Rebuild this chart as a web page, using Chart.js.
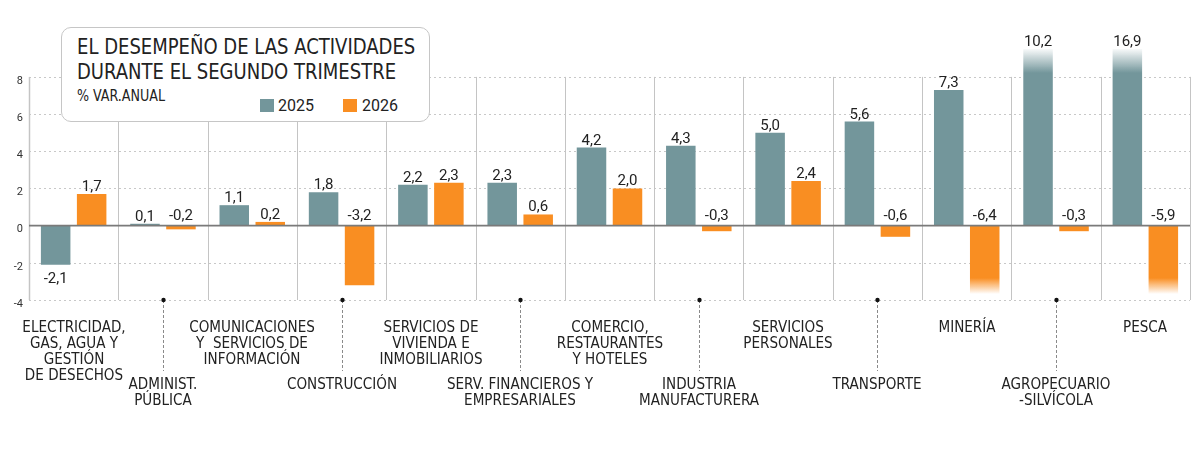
<!DOCTYPE html>
<html lang="es">
<head>
<meta charset="utf-8">
<script src="https://cdn.jsdelivr.net/npm/chart.js@4.4.1/dist/chart.umd.min.js"></script>
<style>
  html, body { margin: 0; padding: 0; background: #fff; }
  #wrap { position: relative; width: 1200px; height: 457px; overflow: hidden; }
  #wrap canvas { position: absolute; left: 0; top: 0; }
  .narrow { font-family: "Liberation Sans Narrow", "DejaVu Sans Condensed", Roboto, sans-serif; color: #222; }
  #box { position: absolute; left: 61px; top: 27px; width: 367px; height: 93px;
         border: 1px solid #c6c6c6; border-radius: 10px; background: #fff; }
  #title { position: absolute; left: 77px; top: 34px; font-size: 22px; line-height: 25px; white-space: pre;
           transform: scaleX(0.91); transform-origin: left top; }
  #unit { position: absolute; left: 77px; top: 89px; font-size: 15px; line-height: 15px;
          transform: scaleX(0.94); transform-origin: left top; }
  .sw { position: absolute; top: 99px; width: 14px; height: 13px; }
  .lg { position: absolute; top: 98px; font-family: Roboto, sans-serif; font-size: 16px; line-height: 16px; color: #222; }
  .cat { position: absolute; width: 170px; text-align: center; font-size: 16px; line-height: 16px; white-space: pre;
         transform: scaleX(0.94); transform-origin: center top; }
  .up { top: 319px; }
  .low { top: 376px; }
</style>
</head>
<body>
<div id="wrap">
  <canvas id="chart" width="1200" height="457"></canvas>
</div>
<script>
// Data
const categories = [
    'ELECTRICIDAD,\nGAS, AGUA Y\nGESTIÓN\nDE DESECHOS',
    'ADMINIST.\nPÚBLICA',
    'COMUNICACIONES\nY  SERVICIOS DE\nINFORMACIÓN',
    'CONSTRUCCIÓN',
    'SERVICIOS DE\nVIVIENDA E\nINMOBILIARIOS',
    'SERV. FINANCIEROS Y\nEMPRESARIALES',
    'COMERCIO,\nRESTAURANTES\nY HOTELES',
    'INDUSTRIA\nMANUFACTURERA',
    'SERVICIOS\nPERSONALES',
    'TRANSPORTE',
    'MINERÍA',
    'AGROPECUARIO\n-SILVÍCOLA',
    'PESCA'
];
const values2025 = [-2.1, 0.1, 1.1, 1.8, 2.2, 2.3, 4.2, 4.3, 5.0, 5.6, 7.3, 10.2, 16.9];
const values2026 = [1.7, -0.2, 0.2, -3.2, 2.3, 0.6, 2.0, -0.3, 2.4, -0.6, -6.4, -0.3, -5.9];
const yTicks = [-4, -2, 0, 2, 4, 6, 8];
const seriesNames = ['2025', '2026'];

const GREY = [115, 150, 155];
const ORANGE = [249, 142, 34];
const rgba = (c, a) => `rgba(${c[0]},${c[1]},${c[2]},${a})`;

const yMin = yTicks[0];
const yTop = yTicks[yTicks.length - 1];

// bars running past the axis range fade out at the plot edge
function barFill(col) {
    return (c) => {
        const area = c.chart.chartArea;
        const v = c.raw;
        if (!area) return rgba(col, 1);
        const ctx = c.chart.ctx;
        if (v > yTop) {
            const g = ctx.createLinearGradient(0, area.top, 0, area.top + 24);
            g.addColorStop(0, rgba(col, 0.05));
            g.addColorStop(1, rgba(col, 1));
            return g;
        }
        if (v < yMin) {
            const g = ctx.createLinearGradient(0, area.bottom - 22, 0, area.bottom - 6);
            g.addColorStop(0, rgba(col, 1));
            g.addColorStop(1, rgba(col, 0));
            return g;
        }
        return rgba(col, 1);
    };
}

const fmt = v => v.toFixed(1).replace('.', ',');

const decor = {
    id: 'decor',
    beforeDatasetsDraw(chart) {
        const { ctx, chartArea: a, scales: { x, y } } = chart;
        const w = x.width / categories.length;
        const top = y.getPixelForValue(yTop);
        const bot = y.getPixelForValue(yMin);
        ctx.save();
        // dotted horizontal grid
        ctx.lineWidth = 1;
        ctx.strokeStyle = '#c8c8c8';
        ctx.setLineDash([2, 3]);
        yTicks.forEach(t => {
            if (t === 0) return;
            const py = Math.round(y.getPixelForValue(t)) + 0.5;
            ctx.beginPath();
            ctx.moveTo(a.left, py);
            ctx.lineTo(a.right, py);
            ctx.stroke();
        });
        // category dividers + y axis line
        ctx.setLineDash([]);
        ctx.strokeStyle = '#c4c4c4';
        for (let i = 0; i <= categories.length; i++) {
            const px = Math.round(x.left + i * w) + 0.5;
            ctx.lineWidth = i === 0 ? 1.5 : 1;
            ctx.beginPath();
            ctx.moveTo(px, top);
            ctx.lineTo(px, bot);
            ctx.stroke();
        }
        ctx.restore();
    },
    afterDatasetsDraw(chart) {
        const { ctx, chartArea: a, scales: { x, y } } = chart;
        const zero = y.getPixelForValue(0);
        const bot = y.getPixelForValue(yMin);
        ctx.save();
        // zero line
        ctx.strokeStyle = '#7a7a7a';
        ctx.lineWidth = 1.8;
        ctx.beginPath();
        ctx.moveTo(a.left, zero);
        ctx.lineTo(a.right, zero);
        ctx.stroke();

        // value labels
        ctx.font = '15px Roboto, sans-serif';
        ctx.fillStyle = '#222';
        ctx.textAlign = 'center';
        ctx.textBaseline = 'alphabetic';
        chart.data.datasets.forEach((ds, d) => {
            chart.getDatasetMeta(d).data.forEach((bar, i) => {
                const v = ds.data[i];
                let ty;
                if (v >= 0) ty = Math.max(bar.y, a.top) - 3;
                else if (d === 0) ty = bar.y + 18;
                else ty = zero - 6;
                ctx.fillText(fmt(v), bar.x, ty);
            });
        });

        // leader lines for the lower label row
        categories.forEach((_, i) => {
            if (i % 2 === 0) return;
            const px = Math.round(x.getPixelForValue(i)) + 0.5;
            ctx.strokeStyle = '#8a8a8a';
            ctx.lineWidth = 1;
            ctx.setLineDash([3, 2]);
            ctx.beginPath();
            ctx.moveTo(px, bot);
            ctx.lineTo(px, 371);
            ctx.stroke();
            ctx.setLineDash([]);
            ctx.fillStyle = '#111';
            ctx.beginPath();
            ctx.arc(px, bot, 2.2, 0, Math.PI * 2);
            ctx.fill();
        });
        ctx.restore();
    }
};

Chart.defaults.font.family = 'Roboto, sans-serif';

const chart = new Chart(document.getElementById('chart'), {
    type: 'bar',
    data: {
        labels: categories,
        datasets: [
            {
                label: seriesNames[0],
                data: values2025,
                backgroundColor: barFill(GREY)
            },
            {
                label: seriesNames[1],
                data: values2026,
                backgroundColor: barFill(ORANGE)
            }
        ]
    },
    options: {
        responsive: false,
        animation: false,
        events: [],
        layout: { padding: { top: 49, right: 10, bottom: 157, left: 0 } },
        datasets: {
            bar: { categoryPercentage: 0.806, barPercentage: 0.82, borderWidth: 0 }
        },
        scales: {
            x: { display: false },
            y: {
                min: yMin,
                max: 9.5,
                afterBuildTicks: s => { s.ticks = yTicks.map(v => ({ value: v })); },
                afterFit: s => { s.width = 29; },
                grid: { display: false, drawTicks: false },
                border: { display: false },
                ticks: {
                    color: '#333',
                    font: { size: 11 },
                    padding: 6,
                    labelOffset: 4
                }
            }
        },
        plugins: {
            legend: { display: false },
            tooltip: { enabled: false }
        }
    },
    plugins: [decor]
});

// HTML overlay: title box, legend and category labels
const wrap = document.getElementById('wrap');
function add(text, cls, style, id) {
    const el = document.createElement('div');
    if (cls) el.className = cls;
    if (id) el.id = id;
    if (text !== null) el.textContent = text;
    Object.assign(el.style, style || {});
    wrap.appendChild(el);
    return el;
}
add(null, '', {}, 'box');
add('EL DESEMPEÑO DE LAS ACTIVIDADES\nDURANTE EL SEGUNDO TRIMESTRE', 'narrow', {}, 'title');
add('% VAR.ANUAL', 'narrow', {}, 'unit');
add(null, 'sw', { left: '260px', background: rgba(GREY, 1) });
add(seriesNames[0], 'lg', { left: '278px' });
add(null, 'sw', { left: '343px', background: rgba(ORANGE, 1) });
add(seriesNames[1], 'lg', { left: '362px' });

categories.forEach((text, i) => {
    const cx = chart.scales.x.getPixelForValue(i);
    add(text, 'cat narrow ' + (i % 2 ? 'low' : 'up'), { left: (cx - 85) + 'px' });
});
</script>
</body>
</html>
